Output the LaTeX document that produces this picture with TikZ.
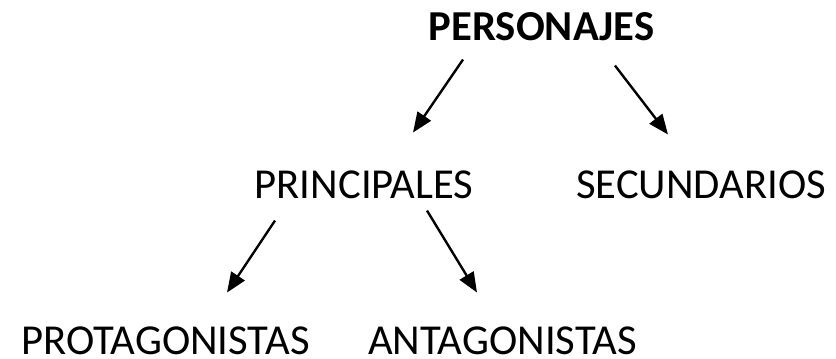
\documentclass[tikz,border=0pt]{standalone}
\usepackage{fontspec}
\setmainfont{Carlito}
\usetikzlibrary{arrows.meta}
\begin{document}
\begin{tikzpicture}[x=0.75pt, y=-0.75pt,
  tipo/.style={anchor=base, inner sep=0pt, font=\fontsize{32}{38}\selectfont},
  flecha/.style={-{Triangle[length=15pt, width=12pt]}, line width=1.8pt}]
  \useasboundingbox (0, 0) rectangle (836, 358);
  \node[tipo, font=\fontsize{32}{38}\selectfont\bfseries] (per) at (541.5, 40) {PERSONAJES};
  \node[tipo] (pri) at (364, 198) {PRINCIPALES};
  \node[tipo] (sec) at (701, 198) {SECUNDARIOS};
  \node[tipo] (pro) at (165.5, 354) {PROTAGONISTAS};
  \node[tipo] (ant) at (502.5, 354) {ANTAGONISTAS};
  \draw[flecha] ([shift={(-78.5, 19)}]per.south) -- ([shift={(49, -37.5)}]pri.north);
  \draw[flecha] ([shift={(73.5, 25)}]per.south) -- ([shift={(-33, -35.5)}]sec.north);
  \draw[flecha] ([shift={(-89, 22)}]pri.south) -- ([shift={(61.5, -33.5)}]pro.north);
  \draw[flecha] ([shift={(63, 12)}]pri.south) -- ([shift={(-25.5, -33.5)}]ant.north);
\end{tikzpicture}
\end{document}
